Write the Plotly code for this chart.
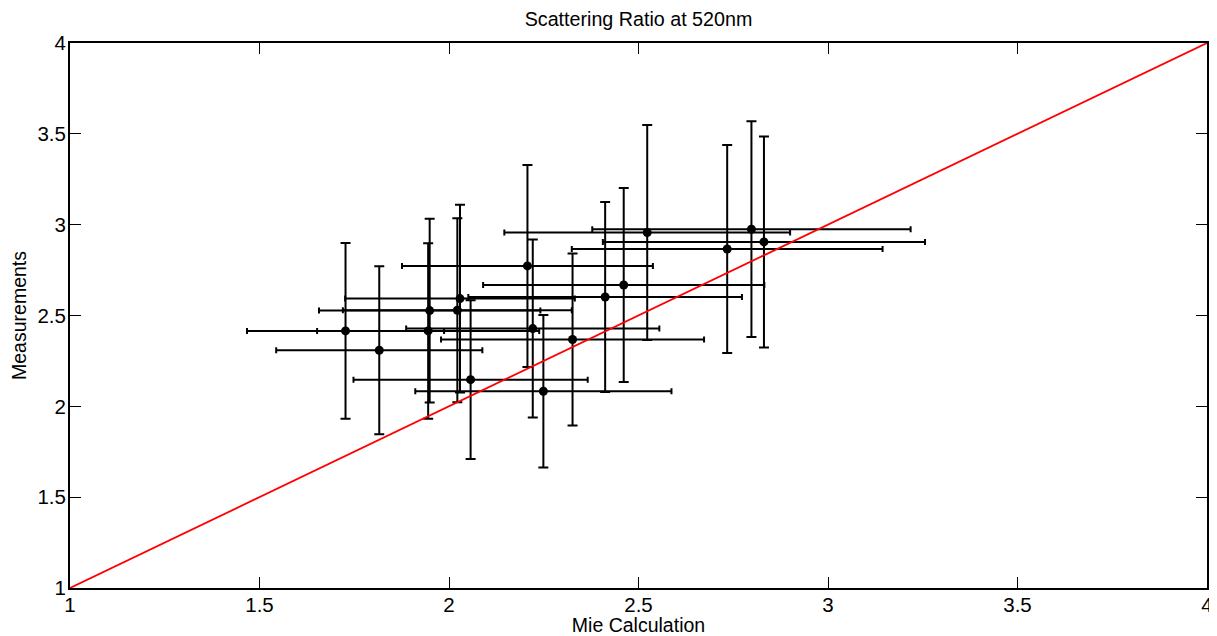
import plotly.graph_objects as go

# Data
mie_calc = [1.727, 1.816, 1.949, 1.945, 2.022, 2.029, 2.057, 2.207, 2.221,
            2.249, 2.326, 2.412, 2.461, 2.523, 2.734, 2.798, 2.831]
mie_err = [0.260, 0.272, 0.292, 0.293, 0.302, 0.303, 0.309, 0.331, 0.334,
           0.338, 0.347, 0.361, 0.371, 0.377, 0.410, 0.420, 0.425]
measured = [2.415, 2.309, 2.527, 2.415, 2.529, 2.593, 2.147, 2.773, 2.428,
            2.083, 2.368, 2.602, 2.668, 2.957, 2.866, 2.975, 2.905]
meas_err = [0.484, 0.462, 0.506, 0.483, 0.506, 0.517, 0.437, 0.556, 0.490,
            0.420, 0.473, 0.523, 0.534, 0.592, 0.572, 0.594, 0.581]
one_to_one = [1, 4]
tick_vals = [1, 1.5, 2, 2.5, 3, 3.5, 4]
tick_text = ["1", "1.5", "2", "2.5", "3", "3.5", "4"]

FONT = "Liberation Sans, Arial, sans-serif"

# page body has an 8px default margin, so the figure is 8px smaller
W, H = 1209, 628

fig = go.Figure()
fig.add_trace(go.Scatter(
    x=mie_calc, y=measured, mode="markers",
    marker=dict(color="black", size=9),
    error_x=dict(type="data", array=mie_err, visible=True,
                 color="black", thickness=2, width=3),
    error_y=dict(type="data", array=meas_err, visible=True,
                 color="black", thickness=2, width=5),
    showlegend=False,
))
fig.add_trace(go.Scatter(
    x=one_to_one, y=one_to_one, mode="lines",
    line=dict(color="red", width=1.8), showlegend=False,
))

axis_common = dict(
    range=[1, 4], tickmode="array", tickvals=tick_vals, ticktext=tick_text,
    ticks="inside", ticklen=11, tickwidth=1.2, tickcolor="black",
    showline=True, linecolor="black", linewidth=2, mirror="ticks",
    showgrid=False, zeroline=False, automargin=False,
    tickfont=dict(family=FONT, size=20.5, color="black"),
)

fig.update_layout(
    width=W, height=H,
    margin=dict(l=62, r=10, t=35, b=48),
    paper_bgcolor="white", plot_bgcolor="white",
    font=dict(family=FONT, size=19.5, color="black"),
    title=dict(text="Scattering Ratio at 520nm", x=0.5, xref="paper",
               y=1 - 11 / H, yref="container", yanchor="middle",
               font=dict(family=FONT, size=19.7, color="black")),
    xaxis=dict(**axis_common, ticklabelstandoff=-3,
               title=dict(text="Mie Calculation", standoff=2,
                          font=dict(family=FONT, size=19.5, color="black"))),
    yaxis=dict(**axis_common, ticklabelstandoff=-2,
               title=dict(text="Measurements", standoff=7,
                          font=dict(family=FONT, size=19.5, color="black"))),
)

fig.write_html("out.html")
